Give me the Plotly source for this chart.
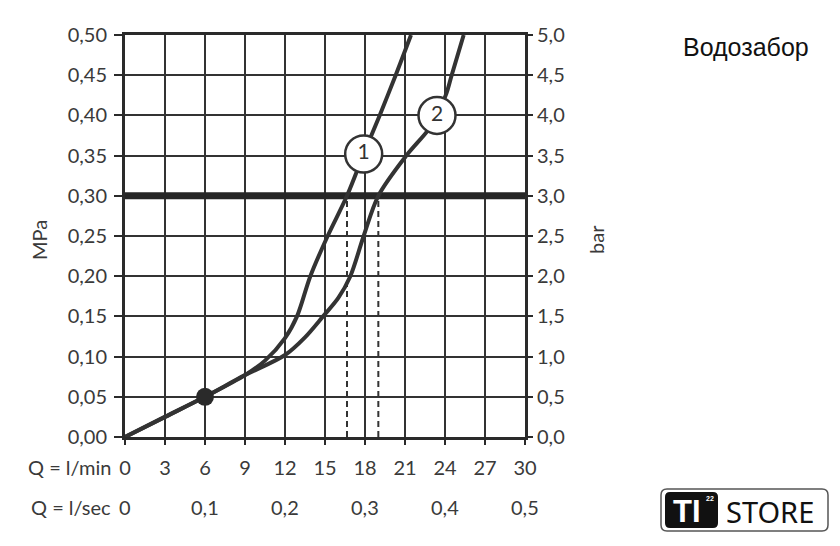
import plotly.graph_objects as go

# ---------------- data ----------------
q_min_ticks = [0, 3, 6, 9, 12, 15, 18, 21, 24, 27, 30]
q_min_labels = ["0", "3", "6", "9", "12", "15", "18", "21", "24", "27", "30"]
q_sec_pos = [0, 6, 12, 18, 24, 30]
q_sec_labels = ["0", "0,1", "0,2", "0,3", "0,4", "0,5"]
mpa_ticks = [0, 0.05, 0.10, 0.15, 0.20, 0.25, 0.30, 0.35, 0.40, 0.45, 0.50]
mpa_labels = ["0,00", "0,05", "0,10", "0,15", "0,20", "0,25", "0,30", "0,35", "0,40", "0,45", "0,50"]
bar_ticks = [0, 0.5, 1.0, 1.5, 2.0, 2.5, 3.0, 3.5, 4.0, 4.5, 5.0]
bar_labels = ["0,0", "0,5", "1,0", "1,5", "2,0", "2,5", "3,0", "3,5", "4,0", "4,5", "5,0"]

q1 = [0, 3, 6, 9, 10.5, 12, 12.9, 13.9, 15.2, 16.65, 17.9, 19.1, 20.3, 21.45]
p1 = [0, 0.025, 0.05, 0.077, 0.095, 0.123, 0.15, 0.20, 0.25, 0.30, 0.352, 0.40, 0.45, 0.50]

q2 = [0, 3, 6, 9, 12, 13.5, 14.85, 16.0, 16.9, 17.9, 19.0, 21.1, 22.7, 23.4, 24.1, 24.5, 25.4]
p2 = [0, 0.025, 0.05, 0.077, 0.102, 0.124, 0.15, 0.173, 0.20, 0.25, 0.30, 0.35, 0.381, 0.40, 0.427, 0.45, 0.50]

ref_pressure = 0.30
q_at_ref = [16.65, 19.0]
point_q = [6]
point_p = [0.05]
label_q = [17.9, 23.4]
label_p = [0.352, 0.40]
label_text = ["1", "2"]
title_text = "Водозабор"

# ---------------- styling ----------------
W, H = 840, 546
L, R, T, B = 125, 315, 35, 109
PW, PH = W - L - R, H - T - B
INK = "#333333"
TXT = "#3a3a3a"
FONT = "Lato, 'Noto Sans', sans-serif"
FS = 20


def px2paper(x, y):
    return (x - L) / PW, (H - B - y) / PH


def rounded_rect(x0, y0, x1, y1, r):
    def P(x, y):
        a, b = px2paper(x, y)
        return f"{a:.5f},{b:.5f}"
    return (f"M {P(x0 + r, y0)} L {P(x1 - r, y0)} Q {P(x1, y0)} {P(x1, y0 + r)} "
            f"L {P(x1, y1 - r)} Q {P(x1, y1)} {P(x1 - r, y1)} "
            f"L {P(x0 + r, y1)} Q {P(x0, y1)} {P(x0, y1 - r)} "
            f"L {P(x0, y0 + r)} Q {P(x0, y0)} {P(x0 + r, y0)} Z")


fig = go.Figure()

fig.add_trace(go.Scatter(x=q1, y=p1, mode="lines", line=dict(color=INK, width=4, shape="spline", smoothing=0.9),
                         hoverinfo="skip", showlegend=False))
fig.add_trace(go.Scatter(x=q2, y=p2, mode="lines", line=dict(color=INK, width=4, shape="spline", smoothing=0.9),
                         hoverinfo="skip", showlegend=False))
fig.add_trace(go.Scatter(x=point_q, y=point_p, mode="markers",
                         marker=dict(size=18, color="#2a2a2a"), hoverinfo="skip", showlegend=False))
fig.add_trace(go.Scatter(x=label_q, y=label_p, mode="markers+text", text=label_text,
                         textposition="middle center",
                         textfont=dict(family=FONT, size=21, color=INK),
                         marker=dict(size=37, color="white", line=dict(color=INK, width=2.5)),
                         hoverinfo="skip", showlegend=False))
# invisible trace to activate the bar axis
fig.add_trace(go.Scatter(x=[0], y=[0], yaxis="y2", mode="markers", marker=dict(opacity=0),
                         hoverinfo="skip", showlegend=False))

# thick reference line at 0.30 MPa
fig.add_shape(type="line", xref="x", yref="y", x0=0, x1=30, y0=ref_pressure, y1=ref_pressure,
              line=dict(color="#262626", width=7), layer="between")
for qv in q_at_ref:
    fig.add_shape(type="line", xref="x", yref="y", x0=qv, x1=qv, y0=0, y1=ref_pressure,
                  line=dict(color=INK, width=2, dash="6px,4px"), layer="between")

axis_common = dict(showline=True, linecolor="#2a2a2a", linewidth=3, zeroline=False,
                   tickfont=dict(family=FONT, size=FS, color=TXT))

fig.update_layout(
    width=W, height=H,
    margin=dict(l=L, r=R, t=T, b=B),
    paper_bgcolor="white", plot_bgcolor="white",
    xaxis=dict(range=[0, 30], tickvals=q_min_ticks, ticktext=q_min_labels,
               showgrid=True, gridcolor=INK, gridwidth=2, mirror=True,
               ticks="outside", ticklen=5, tickwidth=2, tickcolor="#2a2a2a",
               ticklabelstandoff=6, **axis_common),
    yaxis=dict(range=[0, 0.5], tickvals=mpa_ticks, ticktext=mpa_labels,
               showgrid=True, gridcolor=INK, gridwidth=2, mirror=True,
               ticks="outside", ticklen=8, tickwidth=2, tickcolor="#2a2a2a",
               ticklabelstandoff=3, **axis_common),
    yaxis2=dict(range=[0, 5], tickvals=bar_ticks, ticktext=bar_labels, overlaying="y", side="right",
                showgrid=False, ticks="outside", ticklen=5, tickwidth=2, tickcolor="#2a2a2a",
                ticklabelstandoff=0, **axis_common),
)


def note(text, x, y, size=FS, family=FONT, color=TXT, xanchor="center", angle=0):
    a, b = px2paper(x, y)
    return dict(text=text, x=a, y=b, xref="paper", yref="paper", xanchor=xanchor, yanchor="middle",
                showarrow=False, textangle=angle, font=dict(family=family, size=size, color=color))


ann = []
ann.append(note("Q = l/min", 113, 467, xanchor="right"))
ann.append(note("Q = l/sec", 113, 507, xanchor="right"))
row2_y = px2paper(0, 507)[1]
for qv, lab in zip(q_sec_pos, q_sec_labels):
    ann.append(dict(text=lab, x=qv, y=row2_y, xref="x", yref="paper", xanchor="center", yanchor="middle",
                    showarrow=False, font=dict(family=FONT, size=FS, color=TXT)))
ann.append(note("MPa", 39, 240, angle=-90))
ann.append(note("bar", 596, 240, angle=-90))
ann.append(note(title_text, 746, 47, size=25, family="Liberation Sans, Arial, sans-serif", color="#111111"))

# logo
fig.add_shape(type="path", xref="paper", yref="paper", path=rounded_rect(661, 489, 828, 531, 6),
              line=dict(color="#555555", width=1.5), fillcolor="white", layer="below")
fig.add_shape(type="path", xref="paper", yref="paper", path=rounded_rect(665, 492, 718, 528, 5),
              line=dict(color="#111111", width=0), fillcolor="#111111", layer="below")
ann.append(note("<b>TI</b>", 687, 511, size=31, family="Liberation Sans, Arial, sans-serif", color="white"))
ann.append(note("<b>22</b>", 710, 498, size=7, family="Liberation Sans, Arial, sans-serif", color="white"))
ann.append(note("STORE", 770, 511, size=29, family="'Noto Sans', sans-serif", color="#111111"))

fig.update_layout(annotations=ann)
fig.write_html("out.html", config={"displayModeBar": False},
               post_script="document.body.style.margin='0';document.body.style.padding='0';")
